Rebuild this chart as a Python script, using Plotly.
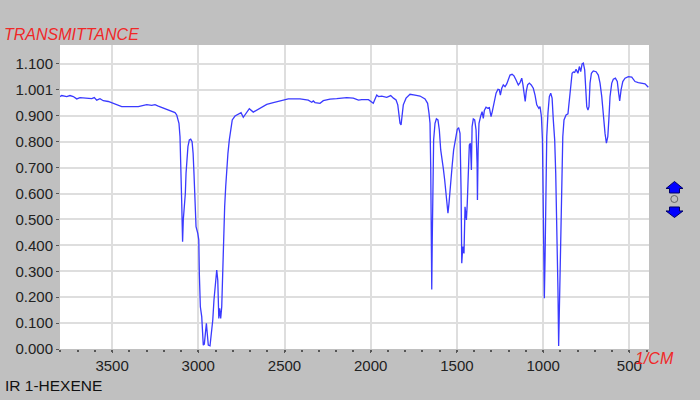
import plotly.graph_objects as go

# ---- data ----
wavenumber = [
    3802, 3792, 3763, 3744, 3725, 3705, 3686, 3647, 3618, 3603, 3589, 3570, 3551, 3522,
    3493, 3473, 3444, 3348, 3328, 3299, 3270, 3251, 3232, 3193, 3164, 3135, 3125, 3112,
    3106, 3102, 3098, 3096, 3093, 3091, 3087, 3081, 3075, 3071, 3067, 3060, 3052, 3044,
    3036, 3030, 3025, 3019, 3013, 3003, 2997, 2994, 2988, 2980, 2974, 2971, 2965, 2959,
    2953, 2948, 2942, 2932, 2924, 2916, 2909, 2901, 2893, 2887, 2881, 2876, 2870, 2864,
    2858, 2853, 2847, 2841, 2835, 2828, 2820, 2812, 2803, 2787, 2768, 2752, 2739, 2723,
    2704, 2681, 2661, 2632, 2603, 2565, 2526, 2478, 2410, 2362, 2342, 2333, 2323, 2294,
    2275, 2236, 2197, 2139, 2101, 2071, 2052, 2013, 1985, 1965, 1955, 1936, 1907, 1884,
    1868, 1853, 1843, 1836, 1830, 1824, 1818, 1811, 1795, 1772, 1743, 1714, 1685, 1670,
    1662, 1656, 1652, 1648, 1646, 1643, 1639, 1635, 1627, 1619, 1610, 1602, 1594, 1586,
    1579, 1571, 1563, 1556, 1552, 1546, 1538, 1528, 1519, 1507, 1498, 1490, 1482, 1476,
    1472, 1466, 1459, 1453, 1445, 1440, 1434, 1428, 1422, 1416, 1412, 1405, 1397, 1389,
    1383, 1381, 1377, 1372, 1362, 1354, 1347, 1341, 1331, 1321, 1312, 1302, 1295, 1285,
    1273, 1262, 1254, 1248, 1240, 1231, 1221, 1211, 1202, 1192, 1180, 1169, 1157, 1144,
    1134, 1124, 1117, 1109, 1104, 1098, 1090, 1080, 1069, 1057, 1047, 1037, 1025, 1018,
    1010, 1004, 999, 995, 993, 989, 985, 979, 972, 964, 956, 948, 941, 933,
    927, 921, 917, 914, 910, 906, 902, 896, 890, 886, 879, 867, 856, 848,
    840, 832, 825, 817, 809, 803, 798, 790, 782, 774, 767, 759, 753, 747,
    740, 734, 728, 720, 709, 693, 680, 670, 660, 651, 641, 633, 625, 619,
    612, 602, 593, 581, 570, 562, 556, 548, 538, 525, 506, 486, 467, 448,
    428, 409, 390,
]
transmittance = [
    0.974, 0.978, 0.974, 0.978, 0.974, 0.965, 0.970, 0.969, 0.966, 0.970, 0.960, 0.966, 0.958, 0.955,
    0.948, 0.943, 0.935, 0.935, 0.939, 0.943, 0.940, 0.943, 0.937, 0.927, 0.920, 0.912, 0.903, 0.871,
    0.819, 0.742, 0.652, 0.562, 0.472, 0.414, 0.498, 0.549, 0.601, 0.678, 0.729, 0.781, 0.807, 0.810,
    0.800, 0.755, 0.678, 0.575, 0.472, 0.446, 0.421, 0.292, 0.163, 0.125, 0.061, 0.015, 0.019, 0.073,
    0.099, 0.061, 0.015, 0.012, 0.061, 0.112, 0.189, 0.266, 0.305, 0.266, 0.118, 0.157, 0.118, 0.163,
    0.318, 0.472, 0.549, 0.626, 0.704, 0.755, 0.807, 0.852, 0.884, 0.899, 0.907, 0.912, 0.894, 0.910,
    0.927, 0.914, 0.922, 0.935, 0.944, 0.951, 0.957, 0.965, 0.965, 0.960, 0.952, 0.957, 0.951, 0.948,
    0.958, 0.964, 0.966, 0.970, 0.968, 0.960, 0.962, 0.962, 0.948, 0.980, 0.974, 0.976, 0.971, 0.978,
    0.968, 0.961, 0.942, 0.910, 0.871, 0.865, 0.903, 0.942, 0.968, 0.983, 0.980, 0.976, 0.965, 0.948,
    0.910, 0.871, 0.704, 0.421, 0.230, 0.421, 0.704, 0.807, 0.871, 0.888, 0.884, 0.845, 0.768, 0.717,
    0.697, 0.652, 0.588, 0.536, 0.524, 0.562, 0.640, 0.704, 0.768, 0.819, 0.848, 0.854, 0.832, 0.614,
    0.331, 0.395, 0.369, 0.549, 0.498, 0.562, 0.678, 0.787, 0.794, 0.691, 0.858, 0.888, 0.884, 0.845,
    0.717, 0.575, 0.768, 0.871, 0.899, 0.916, 0.890, 0.920, 0.933, 0.929, 0.931, 0.897, 0.916, 0.955,
    0.987, 1.002, 1.000, 0.980, 1.006, 1.019, 1.012, 1.023, 1.041, 1.057, 1.060, 1.054, 1.038, 1.019,
    1.028, 1.045, 1.019, 0.987, 0.955, 0.993, 1.019, 1.026, 1.019, 1.006, 0.980, 0.942, 0.929, 0.935,
    0.897, 0.807, 0.549, 0.343, 0.196, 0.343, 0.678, 0.819, 0.910, 0.974, 0.987, 0.968, 0.884, 0.807,
    0.678, 0.500, 0.421, 0.228, 0.012, 0.138, 0.369, 0.549, 0.691, 0.819, 0.884, 0.903, 0.907, 0.961,
    1.026, 1.064, 1.069, 1.067, 1.079, 1.070, 1.064, 1.090, 1.070, 1.100, 1.103, 1.077, 1.000, 0.935,
    0.922, 0.935, 1.026, 1.064, 1.073, 1.070, 1.057, 1.026, 0.974, 0.897, 0.832, 0.794, 0.819, 0.884,
    0.974, 1.026, 1.041, 1.045, 1.032, 0.987, 0.957, 1.000, 1.032, 1.045, 1.051, 1.049, 1.032, 1.028,
    1.026, 1.023, 1.010,
]
y_tick_values = [0.0, 0.1, 0.2, 0.3, 0.4, 0.5, 0.6, 0.7, 0.8, 0.9, 1.0, 1.1]
y_tick_labels = ["0.000", "0.100", "0.200", "0.300", "0.400", "0.500", "0.600",
                 "0.700", "0.800", "0.900", "1.001", "1.100"]
x_tick_values = [3500, 3000, 2500, 2000, 1500, 1000, 500]
x_tick_labels = ["3500", "3000", "2500", "2000", "1500", "1000", "500"]

# ---- layout geometry (pixels) ----
W, H = 700, 400
L, R, T, B = 60, 51, 45, 51
PW, PH = W - L - R, H - T - B


def px(x):
    return (x - L) / PW


def py(y):
    return (H - B - y) / PH


def path(points):
    return "M " + " L ".join(f"{px(a):.5f},{py(b):.5f}" for a, b in points) + " Z"


fig = go.Figure()
fig.add_trace(go.Scatter(
    x=wavenumber, y=transmittance, mode="lines",
    line=dict(color="#3a3aff", width=1.3), hoverinfo="skip", showlegend=False,
))

tick_font = dict(family="Liberation Sans, Arial, sans-serif", size=15, color="#222222")
fig.update_layout(
    width=W, height=H,
    margin=dict(l=L, r=R, t=T, b=B, pad=0),
    paper_bgcolor="#c0c0c0", plot_bgcolor="#ffffff",
    showlegend=False,
    xaxis=dict(
        range=[3802, 386], tickmode="array", tickvals=x_tick_values, ticktext=x_tick_labels,
        showgrid=True, gridcolor="#dedede", gridwidth=2, zeroline=False, showline=False,
        ticks="outside", ticklen=3, tickwidth=1, tickcolor="#555555", tickfont=tick_font,
        minor=dict(dtick=100, tick0=0, ticks="outside", ticklen=2, tickwidth=2,
                   tickcolor="#555555", showgrid=False),
    ),
    yaxis=dict(
        range=[0, 1.173], tickmode="array", tickvals=y_tick_values, ticktext=y_tick_labels,
        showgrid=True, gridcolor="#dedede", gridwidth=2, zeroline=False, showline=False,
        ticks="outside", ticklen=3, tickwidth=1, tickcolor="#555555", tickfont=tick_font,
    ),
    annotations=[
        dict(text="<i>TRANSMITTANCE</i>", xref="paper", yref="paper", x=px(2), y=py(34),
             xanchor="left", yanchor="middle", showarrow=False,
             font=dict(family="Liberation Sans, Arial, sans-serif", size=16, color="#f02828")),
        dict(text="<i>1/CM</i>", xref="paper", yref="paper", x=px(633), y=py(358),
             xanchor="left", yanchor="middle", showarrow=False,
             font=dict(family="Liberation Sans, Arial, sans-serif", size=16, color="#f02828")),
        dict(text="IR 1-HEXENE", xref="paper", yref="paper", x=px(3), y=py(385),
             xanchor="left", yanchor="middle", showarrow=False,
             font=dict(family="Liberation Sans, Arial, sans-serif", size=15.5, color="#111111")),
    ],
    shapes=[
        dict(type="path", xref="paper", yref="paper",
             path=path([(674.5, 181.5), (683, 188.5), (679.5, 188.5), (679.5, 193),
                        (669.5, 193), (669.5, 188.5), (666, 188.5)]),
             fillcolor="#0000ff", line=dict(color="#000066", width=1)),
        dict(type="circle", xref="paper", yref="paper",
             x0=px(670.8), x1=px(677.8), y0=py(202.5), y1=py(195.5),
             fillcolor="rgba(0,0,0,0)", line=dict(color="#666666", width=1)),
        dict(type="path", xref="paper", yref="paper",
             path=path([(669.5, 207), (679.5, 207), (679.5, 211), (683, 211),
                        (674.5, 217.5), (666, 211), (669.5, 211)]),
             fillcolor="#0000ff", line=dict(color="#000066", width=1)),
    ],
)

fig.write_html(
    "out.html",
    config={"displayModeBar": False},
    post_script="document.body.style.margin='0';document.body.style.background='#c0c0c0';",
)
